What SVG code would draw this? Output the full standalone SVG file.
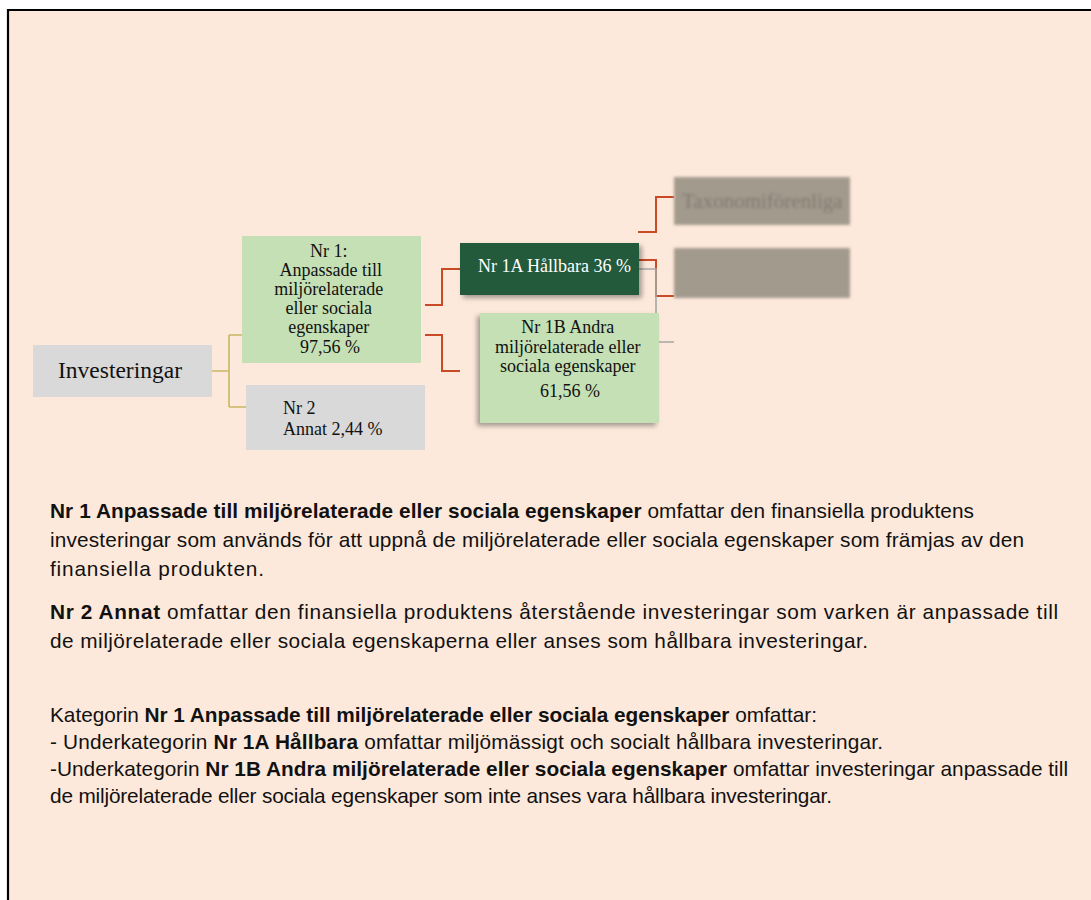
<svg xmlns="http://www.w3.org/2000/svg" width="1091" height="900" viewBox="0 0 1091 900">
<defs>
<style>
.serif{font-family:"Liberation Serif","Times New Roman",serif;font-size:18px;fill:#111}
.body{font-family:"Liberation Sans",Arial,sans-serif;font-size:20.8px;fill:#111}
.b{font-weight:bold}
.red{fill:none;stroke:#c84a26;stroke-width:2}
.khaki{fill:none;stroke:#c9b664;stroke-width:1.6}
.gray{fill:none;stroke:#a6a6a6;stroke-width:1.6}
</style>
<filter id="sh" x="-20%" y="-30%" width="140%" height="170%">
<feDropShadow dx="3" dy="3" stdDeviation="2.5" flood-color="#000" flood-opacity="0.35"/>
</filter>
<filter id="shl" x="-20%" y="-30%" width="140%" height="170%">
<feDropShadow dx="-3" dy="3" stdDeviation="2.5" flood-color="#000" flood-opacity="0.35"/>
</filter>
<filter id="blur" x="-10%" y="-30%" width="120%" height="160%">
<feGaussianBlur stdDeviation="1.8"/>
</filter>
</defs>
<rect x="0" y="0" width="1091" height="900" fill="#ffffff"/>
<rect x="8" y="10" width="1083" height="890" fill="#fde9db"/>
<path d="M8 900 V10 H1091" fill="none" stroke="#000" stroke-width="2.2"/>

<g id="connectors">
<path class="khaki" d="M212 371 H229 M229 335 V407 M229 335 H242 M229 407 H246"/>
<path class="red" d="M425 305 H442 V269 H460"/>
<path class="red" d="M425 335 H442 V371 H460"/>
<path class="red" d="M638 232 H656 V197 H674"/>
<path class="red" d="M639 260 H656 V296 H674"/>
<path class="gray" d="M639 269 H656 V342 H674"/>
</g>

<g id="investeringar">
<rect x="33" y="345" width="179" height="52" fill="#d9d9d9"/>
<text class="serif" x="58" y="378" style="font-size:23.5px">Investeringar</text>
</g>

<g id="nr1">
<rect x="242" y="236" width="179" height="127" fill="#c5e0b4"/>
<text class="serif" text-anchor="middle">
<tspan x="331" y="257">Nr 1:</tspan>
<tspan x="333" y="276">Anpassade till</tspan>
<tspan x="331" y="295">miljörelaterade</tspan>
<tspan x="331" y="314">eller sociala</tspan>
<tspan x="331" y="333">egenskaper</tspan>
<tspan x="330" y="353">97,56 %</tspan>
</text>
</g>

<g id="nr2">
<rect x="246" y="385" width="179" height="65" fill="#d9d9d9"/>
<text class="serif"><tspan x="283" y="414">Nr 2</tspan><tspan x="283" y="435">Annat 2,44 %</tspan></text>
</g>

<g id="nr1a">
<rect x="460" y="243" width="179" height="52" fill="#235a3a" filter="url(#sh)"/>
<text class="serif" x="478" y="272" style="fill:#ffffff">Nr 1A Hållbara 36 %</text>
</g>

<g id="nr1b">
<rect x="480" y="313" width="179" height="110" fill="#c5e0b4" filter="url(#shl)"/>
<text class="serif" text-anchor="middle">
<tspan x="570" y="333">Nr 1B Andra</tspan>
<tspan x="570" y="353">miljörelaterade eller</tspan>
<tspan x="570" y="372">sociala egenskaper</tspan>
<tspan x="570" y="397">61,56 %</tspan>
</text>
</g>

<g id="taxonomi" filter="url(#blur)">
<rect x="674" y="177" width="176" height="48" fill="#a39a8e"/>
<text class="serif" x="682" y="208" style="font-size:21px;fill:#7f756b">Taxonomiförenliga</text>
</g>

<g id="other" filter="url(#blur)">
<rect x="674" y="248" width="176" height="50" fill="#a39a8e"/>
</g>

<g id="explanation">
<text class="body" x="50" y="518" textLength="924" lengthAdjust="spacing"><tspan class="b">Nr 1 Anpassade till miljörelaterade eller sociala egenskaper</tspan> omfattar den finansiella produktens</text>
<text class="body" x="50" y="547" textLength="974" lengthAdjust="spacing">investeringar som används för att uppnå de miljörelaterade eller sociala egenskaper som främjas av den</text>
<text class="body" x="50" y="576" textLength="214" lengthAdjust="spacing">finansiella produkten.</text>
<text class="body" x="50" y="619" textLength="1008" lengthAdjust="spacing"><tspan class="b">Nr 2 Annat</tspan> omfattar den finansiella produktens återstående investeringar som varken är anpassade till</text>
<text class="body" x="50" y="648" textLength="818" lengthAdjust="spacing">de miljörelaterade eller sociala egenskaperna eller anses som hållbara investeringar.</text>
<text class="body" x="50" y="722" textLength="767" lengthAdjust="spacing">Kategorin <tspan class="b">Nr 1 Anpassade till miljörelaterade eller sociala egenskaper</tspan> omfattar:</text>
<text class="body" x="50" y="749" textLength="833" lengthAdjust="spacing">- Underkategorin <tspan class="b">Nr 1A Hållbara</tspan> omfattar miljömässigt och socialt hållbara investeringar.</text>
<text class="body" x="50" y="776" textLength="1018" lengthAdjust="spacing">-Underkategorin <tspan class="b">Nr 1B Andra miljörelaterade eller sociala egenskaper</tspan> omfattar investeringar anpassade till</text>
<text class="body" x="50" y="803" textLength="782" lengthAdjust="spacing">de miljörelaterade eller sociala egenskaper som inte anses vara hållbara investeringar.</text>
</g>
</svg>
